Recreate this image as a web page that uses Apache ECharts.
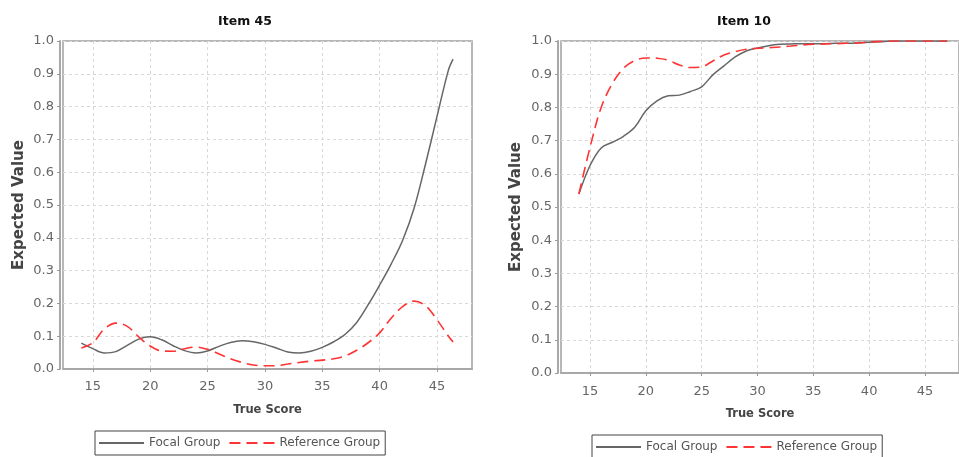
<!DOCTYPE html>
<html>
<head>
<meta charset="utf-8">
<script src="https://cdn.jsdelivr.net/npm/echarts@6/dist/echarts.min.js"></script>
<style>html,body{margin:0;padding:0;background:#fff}#c{width:959px;height:457px}</style>
</head>
<body>
<div id="c"></div>
<script>
const scoresLeft = [14,15,16,17,18,19,20,21,22,23,24,25,26,27,28,29,30,31,32,33,34,35,36,37,38,39,40,41,42,43,44,45,46,46.4];
const focal45 = [0.079,0.062,0.049,0.053,0.072,0.091,0.098,0.089,0.071,0.056,0.049,0.055,0.069,0.081,0.086,0.083,0.075,0.064,0.052,0.049,0.054,0.066,0.083,0.106,0.142,0.196,0.256,0.32,0.392,0.49,0.625,0.77,0.912,0.945];
const reference45 = [0.064,0.08,0.122,0.14,0.13,0.098,0.07,0.055,0.054,0.062,0.067,0.06,0.046,0.031,0.02,0.012,0.01,0.01,0.015,0.02,0.024,0.027,0.031,0.04,0.057,0.08,0.11,0.155,0.19,0.207,0.193,0.15,0.1,0.082];
const scoresRight = [14,15,16,17,18,19,20,21,22,23,24,25,26,27,28,29,30,31,32,33,34,35,36,37,38,39,40,41,42,43,44,45,46,47];
const focal10 = [0.539,0.625,0.678,0.695,0.713,0.74,0.79,0.82,0.835,0.837,0.848,0.862,0.898,0.925,0.952,0.97,0.979,0.986,0.99,0.991,0.992,0.992,0.992,0.993,0.993,0.994,0.996,0.998,1,1,1,1,1,1];
const reference10 = [0.539,0.68,0.80,0.872,0.918,0.941,0.949,0.948,0.942,0.928,0.92,0.922,0.94,0.958,0.968,0.975,0.978,0.98,0.982,0.985,0.988,0.99,0.991,0.992,0.993,0.994,0.997,0.999,1,1,1,1,1,1];
const xTicks = [15,20,25,30,35,40,45];
const titles = ['Item 45','Item 10'];
const seriesNames = ['Focal Group','Reference Group'];
const xName = 'True Score';
const yName = 'Expected Value';

const zip = (xs, ys) => xs.map((x, i) => [x, ys[i]]);
const FONT = 'DejaVu Sans';
const gridLine = {show:true, lineStyle:{color:'#d8d8d8', type:[3,3], width:1}};
const FOCAL = '#666666', REF = '#ff3333';

function xAxis(gi, offset, gap){
  return {
    type:'value', gridIndex:gi, min:12.4, max:48.05, offset:offset,
    name:xName, nameLocation:'middle', nameGap:gap,
    nameTextStyle:{fontFamily:FONT, fontWeight:'bold', fontSize:11.5, color:'#444'},
    axisLine:{show:true, lineStyle:{color:'#a8a8a8', width:2}},
    axisTick:{show:true, length:3, customValues:xTicks, lineStyle:{color:'#999'}},
    axisLabel:{customValues:xTicks, fontFamily:FONT, fontSize:13, color:'#666', margin:6},
    splitLine:gridLine
  };
}
function yAxis(gi, gap){
  return {
    type:'value', gridIndex:gi, min:0, max:1, interval:0.1, offset:3,
    name:yName, nameLocation:'middle', nameGap:gap,
    nameTextStyle:{fontFamily:FONT, fontWeight:'bold', fontSize:15, color:'#444'},
    axisLine:{show:true, lineStyle:{color:'#a8a8a8', width:2}},
    axisTick:{show:true, length:3, lineStyle:{color:'#999'}},
    axisLabel:{fontFamily:FONT, fontSize:13, color:'#666', margin:6, formatter:v => v.toFixed(1)},
    splitLine:gridLine
  };
}
function lineSeries(name, gi, xs, ys, dashed){
  const c = dashed ? REF : FOCAL;
  return {
    name:name, type:'line', xAxisIndex:gi, yAxisIndex:gi, data:zip(xs, ys),
    symbol:'none', smooth:0.35, animation:false, color:c,
    itemStyle:{color:c},
    lineStyle: dashed ? {color:c, width:1.6, type:[11,6]} : {color:c, width:1.5}
  };
}
function legend(left, top){
  return {
    data:seriesNames, left:left, top:top, orient:'horizontal',
    itemWidth:45, itemHeight:14, itemGap:8,
    itemStyle:{opacity:0},
    padding:[6,5,6,3], borderColor:'#444', borderWidth:1, backgroundColor:'#fff',
    textStyle:{fontFamily:FONT, fontSize:12, color:'#555'}, selectedMode:false
  };
}

const chart = echarts.init(document.getElementById('c'), null, {renderer:'canvas'});
chart.setOption({
  backgroundColor:'#fff',
  animation:false,
  title:[
    {text:titles[0], left:240, top:10, textAlign:'center', textStyle:{fontFamily:FONT, fontWeight:'bold', fontSize:12.5, color:'#111'}},
    {text:titles[1], left:739, top:10, textAlign:'center', textStyle:{fontFamily:FONT, fontWeight:'bold', fontSize:12.5, color:'#111'}}
  ],
  legend:[legend(95, 431), legend(592, 435)],
  grid:[
    {left:63, top:41, width:409, height:328, show:true, borderColor:'#a0a0a0', borderWidth:1.5, containLabel:false},
    {left:561, top:41, width:412.4, height:332, show:true, borderColor:'#a0a0a0', borderWidth:1.5, containLabel:false}
  ],
  xAxis:[xAxis(0, 5, 30), xAxis(1, 6, 29)],
  yAxis:[yAxis(0, 33), yAxis(1, 34)],
  series:[
    lineSeries(seriesNames[0], 0, scoresLeft, focal45, false),
    lineSeries(seriesNames[1], 0, scoresLeft, reference45, true),
    lineSeries(seriesNames[0], 1, scoresRight, focal10, false),
    lineSeries(seriesNames[1], 1, scoresRight, reference10, true)
  ]
});
</script>
</body>
</html>
